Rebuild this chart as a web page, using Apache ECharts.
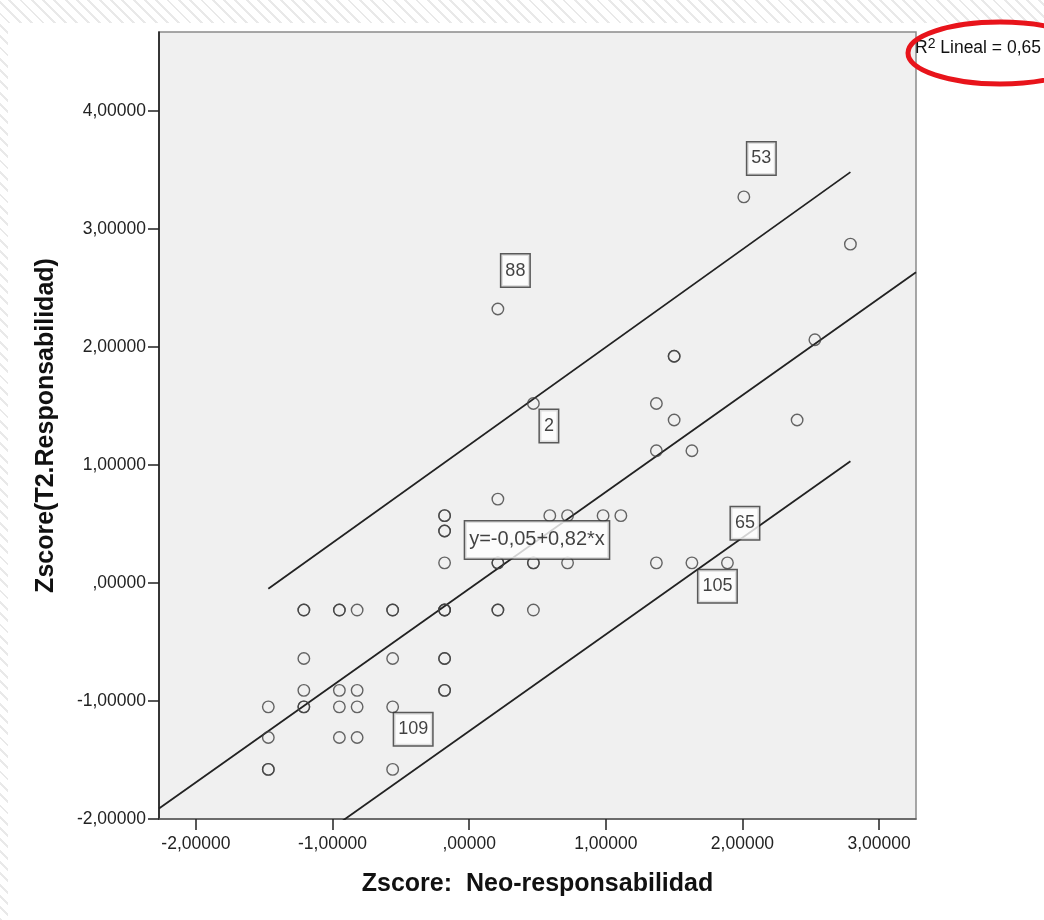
<!DOCTYPE html>
<html>
<head>
<meta charset="utf-8">
<script src="https://cdn.jsdelivr.net/npm/echarts@6/dist/echarts.min.js"></script>
<style>
  html, body {
    margin: 0; padding: 0; width: 1044px; height: 920px; overflow: hidden;
    background: repeating-linear-gradient(45deg, #e9e9e9 0 2px, #ffffff 2px 8px);
  }
  #panel { position: absolute; left: 8px; top: 23px; right: 0; bottom: 0; background: #ffffff; }
  #chart { position: absolute; left: 0; top: 0; width: 1044px; height: 920px; }
</style>
</head>
<body>
<div id="panel"></div>
<div id="chart"></div>
<script>
// Standardised scores, one entry per case (repeated entries = overlapping cases)
const zNeo = [
   2.01,  2.79,  0.21,  2.53,  1.50,  1.50,  0.47,  1.37,  1.50,  2.40,  1.37,  1.63,
   0.21, -0.18, -0.18,  0.59,  0.72,  0.98,  1.11, -0.18, -0.18,
  -0.18,  0.21,  0.21,  0.47,  0.47,  0.72,  1.37,  1.63,  1.89,
  -1.21, -1.21, -0.95, -0.95, -0.82, -0.56, -0.56, -0.18, -0.18, -0.18,  0.21,  0.21,  0.47,
  -1.21, -0.56, -0.18, -0.18,
  -1.21, -0.95, -0.82, -0.18, -0.18,
  -1.47, -1.21, -1.21, -0.95, -0.82, -0.56,
  -1.47, -0.95, -0.82,
  -1.47, -1.47, -0.56
];
const zResp = [
   3.27,  2.87,  2.32,  2.06,  1.92,  1.92,  1.52,  1.52,  1.38,  1.38,  1.12,  1.12,
   0.71,  0.57,  0.57,  0.57,  0.57,  0.57,  0.57,  0.44,  0.44,
   0.17,  0.17,  0.17,  0.17,  0.17,  0.17,  0.17,  0.17,  0.17,
  -0.23, -0.23, -0.23, -0.23, -0.23, -0.23, -0.23, -0.23, -0.23, -0.23, -0.23, -0.23, -0.23,
  -0.64, -0.64, -0.64, -0.64,
  -0.91, -0.91, -0.91, -0.91, -0.91,
  -1.05, -1.05, -1.05, -1.05, -1.05, -1.05,
  -1.31, -1.31, -1.31,
  -1.58, -1.58, -1.58
];

// Case numbers shown next to some points, and the row of each in the arrays above
const caseNumbers = ['53', '88', '2', '105', '65', '109'];
const caseRows    = [0, 2, 6, 28, 29, 57];

// Linear fit  y = b0 + b1 * x
const fitIntercept = -0.05;
const fitSlope = 0.82;
const fitLabelAt = 0.5;
const rSquaredText = '0,65';

// 95% individual prediction limits (end points)
const piUpper = [[-1.47, -0.05], [2.79, 3.48]];
const piLower = [[-1.47, -2.46], [2.79, 1.03]];

// Axes
const xRange = [-2.27, 3.27];
const yRange = [-2.0, 4.667];
const xTicks = [-2, -1, 0, 1, 2, 3];
const yTicks = [-2, -1, 0, 1, 2, 3, 4];
const xTitle = 'Zscore:  Neo-responsabilidad';
const yTitle = 'Zscore(T2.Responsabilidad)';

// ---------------------------------------------------------------------------
const FONT = '"Liberation Sans", Arial, sans-serif';
const INK = '#222222';

// SPSS style number format: comma decimals, no leading zero
function fmt(v) {
  let s = Math.abs(v).toFixed(5).replace('.', ',');
  if (s.startsWith('0,')) s = s.slice(1);
  return (v < 0 ? '-' : '') + s;
}

// label box placement relative to its point: [left edge dx, centre dy]
const labelPlace = {
  '53': [4, -38], '88': [4, -38], '65': [4, -39],
  '2': [7, 23], '105': [7, 24], '109': [2, 23]
};

const points = zNeo.map((x, i) => [x, zResp[i]]);
const fitLine = xRange.map(x => [x, fitIntercept + fitSlope * x]);

const boxLabel = {
  show: true,
  fontFamily: FONT,
  fontSize: 18,
  lineHeight: 21,
  color: '#111',
  backgroundColor: '#ffffff',
  borderColor: '#333333',
  borderWidth: 1.5,
  padding: [6, 4, 5, 4],
  align: 'left',
  verticalAlign: 'middle'
};

const caseLabelData = caseNumbers.map((id, k) => {
  const r = caseRows[k];
  const p = labelPlace[id];
  return {
    name: id,
    value: [zNeo[r], zResp[r]],
    label: Object.assign({}, boxLabel, { position: [p[0], p[1]], formatter: id })
  };
});

const eqText = 'y=' + fitIntercept.toFixed(2).replace('.', ',') + '+' +
               fitSlope.toFixed(2).replace('.', ',') + '*x';

const axisCommon = {
  type: 'value',
  nameLocation: 'middle',
  nameTextStyle: { fontFamily: FONT, fontWeight: 'bold', fontSize: 25, color: '#111' },
  splitLine: { show: false }
};

const option = {
  animation: false,
  backgroundColor: 'transparent',
  grid: {
    left: 159, right: 128, top: 32, bottom: 101,
    show: true, backgroundColor: '#f0f0f0', borderColor: '#8a8a8a', borderWidth: 1.5
  },
  xAxis: Object.assign({}, axisCommon, {
    min: xRange[0], max: xRange[1],
    name: xTitle, nameGap: 53,
    axisLine: { show: true, onZero: false, lineStyle: { color: '#5a5a5a', width: 1.5 } },
    axisTick: { show: true, length: 11, customValues: xTicks, lineStyle: { color: INK, width: 1.5 } },
    axisLabel: { margin: 16, fontFamily: FONT, fontSize: 17.5, color: INK, formatter: fmt, customValues: xTicks }
  }),
  yAxis: Object.assign({}, axisCommon, {
    min: yRange[0], max: yRange[1],
    name: yTitle, nameGap: 100,
    axisLine: { show: true, onZero: false, lineStyle: { color: '#111', width: 1.5 } },
    axisTick: { show: true, length: 11, customValues: yTicks, lineStyle: { color: INK, width: 1.5 } },
    axisLabel: { margin: 13, fontFamily: FONT, fontSize: 17.5, color: INK, formatter: fmt, customValues: yTicks }
  }),
  series: [
    {
      type: 'line', data: fitLine, symbol: 'none', clip: true, z: 2,
      lineStyle: { color: INK, width: 1.8 }, silent: true
    },
    {
      type: 'line', data: piUpper, symbol: 'none', clip: true, z: 2,
      lineStyle: { color: INK, width: 1.8 }, silent: true
    },
    {
      type: 'line', data: piLower, symbol: 'none', clip: true, z: 2,
      lineStyle: { color: INK, width: 1.8 }, silent: true
    },
    {
      type: 'scatter', data: points, symbol: 'circle', symbolSize: 11.5, z: 3,
      itemStyle: { color: 'rgba(0,0,0,0)', borderColor: '#404040', borderWidth: 1.4 }
    },
    {
      type: 'scatter', data: caseLabelData, symbol: 'circle', symbolSize: 1, z: 5,
      itemStyle: { color: 'rgba(0,0,0,0)' }
    },
    {
      type: 'scatter', symbol: 'circle', symbolSize: 1, z: 5,
      itemStyle: { color: 'rgba(0,0,0,0)' },
      data: [{
        value: [fitLabelAt, fitIntercept + fitSlope * fitLabelAt],
        label: Object.assign({}, boxLabel, {
          fontSize: 20, lineHeight: 22, padding: [8, 4, 7, 4],
          position: [0, 0], align: 'center', formatter: eqText
        })
      }]
    }
  ],
  graphic: [
    {
      type: 'text', left: 915, top: 37, z: 10,
      style: {
        text: '{r|R}{s|2}{r| Lineal = ' + rSquaredText + '}',
        rich: {
          r: { fontFamily: FONT, fontSize: 17.5, lineHeight: 22, fill: '#111' },
          s: { fontFamily: FONT, fontSize: 14, lineHeight: 19, verticalAlign: 'top', fill: '#111' }
        }
      }
    },
    {
      type: 'ellipse', z: 11,
      shape: { cx: 1000, cy: 53, rx: 92, ry: 31 },
      style: { fill: 'none', stroke: '#e8141b', lineWidth: 5 }
    }
  ]
};

const chart = echarts.init(document.getElementById('chart'), null, { renderer: 'canvas' });
chart.setOption(option);
</script>
</body>
</html>
